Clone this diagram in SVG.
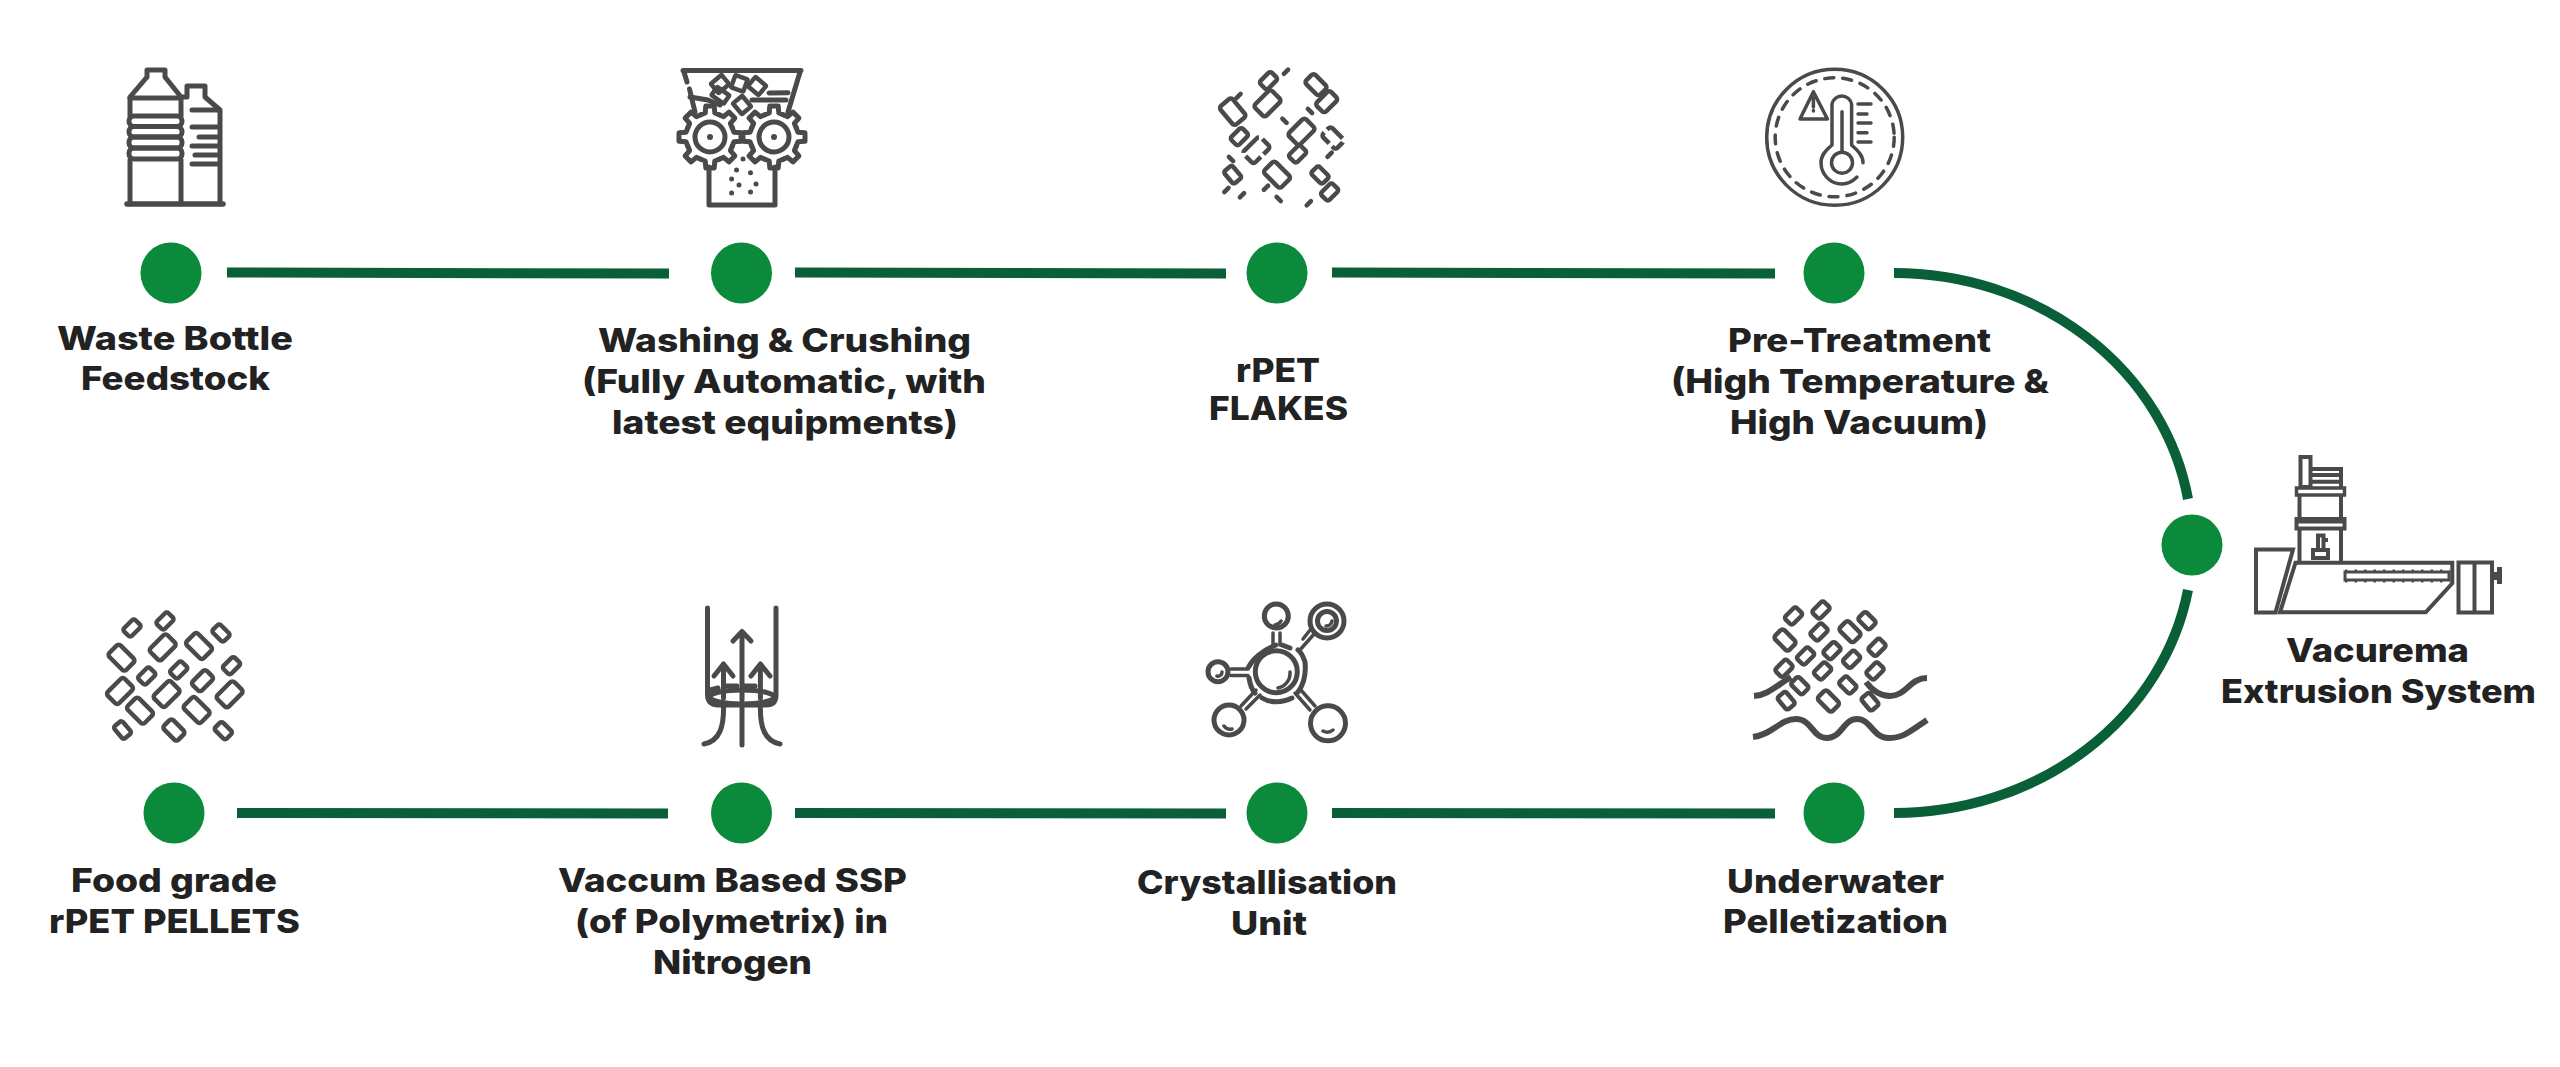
<svg xmlns="http://www.w3.org/2000/svg" xmlns:xlink="http://www.w3.org/1999/xlink" width="2560" height="1067" viewBox="0 0 2560 1067">
<style>
.dot{fill:#0b8a3c}
.conn{fill:none;stroke:#085f38;stroke-width:10}
.t{font-family:"Inter","Liberation Sans",sans-serif;font-weight:800;font-size:33px;fill:#222}
.i{fill:none;stroke:#4a4a4a;stroke-width:5;stroke-linecap:round;stroke-linejoin:round}
.th{stroke-width:3.5}
.m{stroke-linecap:butt;stroke-linejoin:miter;stroke-width:4}
.s{fill:#4a4a4a}
.fl{fill:none;stroke:#4a4a4a;stroke-width:4.500;stroke-linejoin:round}
.d{stroke:#4a4a4a;stroke-width:4.500;stroke-linecap:round}
</style>
<defs>
<rect id="fl" class="fl" x="-12" y="-8" width="24" height="16" rx="3"/>
<rect id="fm" class="fl" x="-10" y="-6.500" width="20" height="13" rx="3"/>
<rect id="fs" class="fl" x="-8" y="-5.500" width="16" height="11" rx="2.500"/>
<line id="da" class="d" x1="-3" y1="0" x2="3" y2="0"/>
<path id="gs" d="M-9.200-22.200L-4.800-24L-4.200-31H4.200L4.800-24L9.200-22.200"/>
<g id="gear" class="i">
<circle r="24" fill="#fff" stroke="none"/>
<use href="#gs"/><use href="#gs" transform="rotate(45)"/><use href="#gs" transform="rotate(90)"/><use href="#gs" transform="rotate(135)"/><use href="#gs" transform="rotate(180)"/><use href="#gs" transform="rotate(225)"/><use href="#gs" transform="rotate(270)"/><use href="#gs" transform="rotate(315)"/>
<circle r="15"/>
<circle r="3" class="s" stroke="none"/>
</g>
</defs>
<rect width="2560" height="1067" fill="#fff"/>

<g id="connectors">
<path class="conn" d="M227 272.500L669 273.500"/>
<path class="conn" d="M795 272.500L1226 273.500"/>
<path class="conn" d="M1332 272.500L1775 273.500"/>
<path class="conn" d="M1894 273A298 270 0 0 1 2188 499"/>
<path class="conn" d="M2188 590A298 270 0 0 1 1894 813"/>
<path class="conn" d="M1775 813.500L1332 813"/>
<path class="conn" d="M1226 813.500L795 813"/>
<path class="conn" d="M668 813.500L237 813"/>
</g>

<g id="node-waste-bottle">
<circle class="dot" cx="171" cy="273" r="30.500"/>
<g class="i">
<path d="M147 77V70H165V77L181 97V116M147 77L130 97V116M130 160V204M181 160V204"/>
<path d="M130 98H181"/>
<rect x="129" y="116" width="53" height="10.500" rx="5"/>
<rect x="129" y="126.500" width="53" height="10.500" rx="5"/>
<rect x="129" y="137" width="53" height="11" rx="5"/>
<rect x="129" y="148" width="53" height="11" rx="5"/>
<path d="M182 97L187 97V86H205V97L220 110V204"/>
<path d="M192 110H219M192 127H219M199 137H219M192 146H219M195 155H219M192 164H219"/>
<path d="M127 204H223" style="stroke-width:5.500"/>
</g>
<text class="t" x="57" y="350" textLength="236" lengthAdjust="spacingAndGlyphs">Waste Bottle</text>
<text class="t" x="81" y="390" textLength="189" lengthAdjust="spacingAndGlyphs">Feedstock</text>
</g>

<g id="node-washing">
<circle class="dot" cx="741.500" cy="273" r="30.500"/>
<g class="i">
<path d="M683 70.500H801M684 72L687 82M689.500 89L695 112M800 72L788 112"/>
<path d="M690 97L708 100M769 93L788 92.700M752 100L786 100M708 100L720 105"/>
<use href="#gear" x="710" y="137"/>
<use href="#gear" x="774" y="137"/>
<path d="M709 167V205H775V167"/>
<g style="stroke-width:4.500">
<rect x="713" y="78" width="14" height="12" rx="1" transform="rotate(-40 720 84)"/>
<rect x="733" y="77" width="13" height="13" rx="1" transform="rotate(20 740 83)"/>
<rect x="750" y="80" width="14" height="12" rx="1" transform="rotate(40 757 86)"/>
<rect x="713" y="90" width="15" height="10" rx="1" transform="rotate(35 720 95)"/>
<rect x="735" y="99" width="14" height="12" rx="1" transform="rotate(50 742 105)"/>
</g>
<g class="s" stroke="none"><circle cx="743" cy="159" r="2.500"/><circle cx="736.500" cy="170" r="2.500"/><circle cx="750.500" cy="172.700" r="2.500"/><circle cx="731.600" cy="179" r="2.500"/><circle cx="739" cy="185" r="2.500"/><circle cx="756" cy="184" r="2.500"/><circle cx="731.600" cy="193" r="2.500"/><circle cx="750.500" cy="192" r="2.500"/></g>
</g>
<text class="t" x="598" y="352" textLength="373" lengthAdjust="spacingAndGlyphs">Washing &amp; Crushing</text>
<text class="t" x="582" y="393" textLength="404" lengthAdjust="spacingAndGlyphs">(Fully Automatic, with</text>
<text class="t" x="612" y="434" textLength="346" lengthAdjust="spacingAndGlyphs">latest equipments)</text>
</g>

<g id="node-flakes">
<circle class="dot" cx="1277" cy="273" r="30.500"/>
<use href="#fs" transform="translate(1268.500 80.700) rotate(-45)"/>
<use href="#fm" transform="translate(1316 84.700) rotate(45)"/>
<use href="#fl" transform="translate(1267.500 103.300) rotate(-45)"/>
<use href="#fm" transform="translate(1326.700 101.700) rotate(-45)"/>
<use href="#fl" transform="translate(1232.700 111.700) rotate(50)"/>
<use href="#fs" transform="translate(1239.400 136.700) rotate(-45)"/>
<use href="#fl" transform="translate(1301.500 131.700) rotate(-45)"/>
<use href="#fm" transform="translate(1333 138) rotate(45)" stroke-dasharray="14 4"/>
<use href="#fl" transform="translate(1256.400 150) rotate(-45)" stroke-dasharray="20 4"/>
<use href="#fs" transform="translate(1297.600 154) rotate(-45)"/>
<use href="#fs" transform="translate(1232.700 174.700) rotate(50)"/>
<use href="#fl" transform="translate(1277 174.700) rotate(45)"/>
<use href="#fs" transform="translate(1320 175) rotate(45)"/>
<use href="#fs" transform="translate(1329.600 192) rotate(-45)"/>
<use href="#da" transform="translate(1286 71.700) rotate(-45)"/>
<use href="#da" transform="translate(1238.500 96) rotate(-45)"/>
<use href="#da" transform="translate(1310 111) rotate(45)"/>
<use href="#da" transform="translate(1284.500 120.700) rotate(45)"/>
<use href="#da" transform="translate(1329.600 154.700) rotate(-45)"/>
<use href="#da" transform="translate(1231 159) rotate(45)"/>
<use href="#da" transform="translate(1226.400 190) rotate(-45)"/>
<use href="#da" transform="translate(1266 187.700) rotate(-45)"/>
<use href="#da" transform="translate(1242 195.300) rotate(-45)"/>
<use href="#da" transform="translate(1278.700 199) rotate(45)"/>
<use href="#da" transform="translate(1308.800 203.300) rotate(-45)"/>
<text class="t" x="1236" y="382" textLength="84" lengthAdjust="spacingAndGlyphs">rPET</text>
<text class="t" x="1209" y="420" textLength="139" lengthAdjust="spacingAndGlyphs">FLAKES</text>
</g>

<g id="node-pretreatment">
<circle class="dot" cx="1834" cy="273" r="30.500"/>
<g class="i th">
<circle cx="1834.700" cy="137.300" r="68"/>
<circle cx="1834.700" cy="137.300" r="59.500" stroke-dasharray="9 9"/>
<path d="M1832 145V104A10 10 0 0 1 1851.600 104V145C1857 150 1863 155 1863 162.700M1832 145C1826 150 1821 155 1821 162.700C1821 174 1830 184 1842 184C1848 184 1853 181 1857 177"/>
<path d="M1842 111.700V151.700"/>
<circle cx="1842" cy="162.700" r="10.500"/>
<path d="M1858 104H1871M1858 114H1867M1858 123H1871M1858 132.700H1867M1858 142H1871"/>
<path d="M1813.400 91.700L1800 119H1827.400ZM1813.400 98V107M1813.400 110.500V111"/>
</g>
<text class="t" x="1728" y="352" textLength="263" lengthAdjust="spacingAndGlyphs">Pre-Treatment</text>
<text class="t" x="1671" y="393" textLength="378" lengthAdjust="spacingAndGlyphs">(High Temperature &amp;</text>
<text class="t" x="1730" y="434" textLength="258" lengthAdjust="spacingAndGlyphs">High Vacuum)</text>
</g>

<g id="node-vacurema">
<circle class="dot" cx="2192" cy="545" r="30.500"/>
<g class="i m">
<rect x="2300.500" y="457" width="10" height="30"/>
<path d="M2311 469H2341V487M2311 475H2341M2311 481.700H2341"/>
<rect x="2296.500" y="488" width="48" height="7" style="stroke-width:3.500"/>
<path d="M2299.500 495V518M2341 495V518"/>
<rect x="2296.500" y="519" width="48" height="9.500"/>
<path d="M2296 522H2345" style="stroke-width:3"/>
<path d="M2299.500 529V562M2341 529V562"/>
<rect x="2313" y="550" width="15" height="8"/>
<path d="M2318 550V535.500H2323.500V550M2323.500 540H2328"/>
<path d="M2256 549.500H2293L2275.500 612.500H2256Z"/>
<path d="M2295.500 562.700H2452.300V583.300L2425.700 612.300H2280Z"/>
<path d="M2345 576H2450" style="stroke-width:13" stroke-dasharray="2.500 7"/>
<rect x="2345" y="572" width="104" height="8" fill="#fff" style="stroke-width:3"/>
<rect x="2458.500" y="562.500" width="33.500" height="50"/>
<path d="M2474.500 562.500V612.500"/>
<rect x="2492" y="572" width="5" height="8" class="s" stroke="none"/>
<rect x="2497" y="567" width="5" height="17" class="s" stroke="none"/>
</g>
<text class="t" x="2286" y="662" textLength="183" lengthAdjust="spacingAndGlyphs">Vacurema</text>
<text class="t" x="2221" y="703" textLength="315" lengthAdjust="spacingAndGlyphs">Extrusion System</text>
</g>

<g id="node-pelletization">
<circle class="dot" cx="1834" cy="813" r="30.500"/>
<use href="#fs" transform="translate(1793.500 616) rotate(-45)"/>
<use href="#fs" transform="translate(1821 610) rotate(-45)"/>
<use href="#fs" transform="translate(1867 620.700) rotate(45)"/>
<use href="#fs" transform="translate(1819 632) rotate(-45)"/>
<use href="#fm" transform="translate(1850 631.700) rotate(45)"/>
<use href="#fm" transform="translate(1785 640) rotate(45)"/>
<use href="#fs" transform="translate(1877 647.300) rotate(-45)"/>
<use href="#fs" transform="translate(1805.600 656) rotate(-45)"/>
<use href="#fs" transform="translate(1832 650.700) rotate(-45)"/>
<use href="#fs" transform="translate(1851.600 659.300) rotate(-45)"/>
<use href="#fs" transform="translate(1784 668.300) rotate(-45)"/>
<use href="#fs" transform="translate(1822.600 671) rotate(-45)"/>
<use href="#fs" transform="translate(1875 671) rotate(-45)"/>
<use href="#fs" transform="translate(1799.800 685.700) rotate(45)"/>
<use href="#fs" transform="translate(1847.800 685) rotate(45)"/>
<use href="#fs" transform="translate(1786.200 700.700) rotate(50)"/>
<use href="#fm" transform="translate(1828.400 701) rotate(45)"/>
<use href="#fs" transform="translate(1870 701.700) rotate(50)"/>
<g class="i" style="stroke-width:6;stroke-linecap:butt">
<path d="M1753 737C1772 735 1780 719 1796 719S1812 738 1827 738S1843 719 1857 719S1873 738 1888 738S1908 733 1927 720"/>
<path d="M1754 696C1768 695 1776 686 1791 677"/>
<path d="M1866 682C1872 690 1880 696 1890 696C1906 696 1910 678 1927 678"/>
</g>
<text class="t" x="1727" y="893" textLength="217" lengthAdjust="spacingAndGlyphs">Underwater</text>
<text class="t" x="1723" y="933" textLength="225" lengthAdjust="spacingAndGlyphs">Pelletization</text>
</g>

<g id="node-crystallisation">
<circle class="dot" cx="1277" cy="813" r="30.500"/>
<g class="i" style="stroke-width:5">
<path d="M1276 645C1262 650 1252 660 1248 668M1249 678C1250 684 1252 690 1255 693M1262 698C1270 703 1282 703 1292 698M1298 692C1304 684 1306 672 1305 662C1303 656 1301 652 1298 650M1290 648L1282 645"/>
<circle cx="1276.300" cy="671.700" r="21"/>
<circle cx="1276.300" cy="616" r="12"/>
<circle cx="1327" cy="621" r="17"/>
<circle cx="1327" cy="621" r="9.500"/>
<circle cx="1218" cy="671.700" r="10"/>
<circle cx="1229" cy="720" r="15"/>
<circle cx="1328" cy="723.300" r="17.500"/>
<g style="stroke-width:3.500">
<path d="M1273 633V645M1280 633V645"/>
<path d="M1231 669H1248M1231 675.500H1248"/>
<path d="M1241 706L1256 690M1246 709L1260 695"/>
<path d="M1310 710L1295 693M1315 706L1300 689"/>
<path d="M1315 633L1299 651M1310 630L1303 639"/>
<path d="M1281 621A8 8 0 0 1 1275 625M1332 621A6 6 0 0 1 1326 626M1222 672A4 4 0 0 1 1217 676M1224 726A8 8 0 0 0 1232 729M1323 731A9 9 0 0 0 1333 730M1290 672A15 15 0 0 1 1278 688"/>
</g>
</g>
<text class="t" x="1137" y="894" textLength="260" lengthAdjust="spacingAndGlyphs">Crystallisation</text>
<text class="t" x="1231" y="935" textLength="76" lengthAdjust="spacingAndGlyphs">Unit</text>
</g>

<g id="node-ssp">
<circle class="dot" cx="741.500" cy="813" r="30.500"/>
<g class="i" style="stroke-width:5">
<path d="M707.500 608V695C707.500 702 712 705 718 705H766C772 705 776 702 776 695V608"/>
<ellipse cx="742" cy="697" rx="32" ry="7"/>
<path d="M742 705V745M723.500 706C724 726 720 741 704 744M760.400 706C760 726 764 741 780 744"/>
<path d="M742 700V632M733 641L742 631.500L751 641"/>
<path d="M723.500 698V664M714 676L723.500 664L733 676"/>
<path d="M760.400 698V664M751 676L760.400 664L770 676"/>
<path d="M726 686H737M743.400 686H755M710 690L718 688"/>
</g>
<text class="t" x="558" y="892" textLength="349" lengthAdjust="spacingAndGlyphs">Vaccum Based SSP</text>
<text class="t" x="575" y="933" textLength="313" lengthAdjust="spacingAndGlyphs">(of Polymetrix) in</text>
<text class="t" x="653" y="974" textLength="159" lengthAdjust="spacingAndGlyphs">Nitrogen</text>
</g>

<g id="node-pellets">
<circle class="dot" cx="174" cy="813" r="30.500"/>
<use href="#fs" transform="translate(132 628) rotate(-45)"/>
<use href="#fs" transform="translate(165 621) rotate(-45)"/>
<use href="#fs" transform="translate(221 633) rotate(45)"/>
<use href="#fl" transform="translate(162.700 647.300) rotate(-45)"/>
<use href="#fl" transform="translate(199 646) rotate(45)"/>
<use href="#fl" transform="translate(121.500 657.700) rotate(45)"/>
<use href="#fs" transform="translate(231.500 665.700) rotate(-45)"/>
<use href="#fs" transform="translate(146.700 676) rotate(-45)"/>
<use href="#fs" transform="translate(178.700 670) rotate(-45)"/>
<use href="#fm" transform="translate(202.500 680.700) rotate(-45)"/>
<use href="#fl" transform="translate(120 691) rotate(-45)"/>
<use href="#fl" transform="translate(166.600 694) rotate(-45)"/>
<use href="#fl" transform="translate(229.600 694.300) rotate(-45)"/>
<use href="#fl" transform="translate(140 710.700) rotate(45)"/>
<use href="#fl" transform="translate(196.600 710) rotate(45)"/>
<use href="#fs" transform="translate(122.500 730) rotate(50)"/>
<use href="#fm" transform="translate(173.900 730) rotate(45)"/>
<use href="#fs" transform="translate(223.300 730.700) rotate(45)"/>
<text class="t" x="71" y="892" textLength="206" lengthAdjust="spacingAndGlyphs">Food grade</text>
<text class="t" x="49" y="933" textLength="251" lengthAdjust="spacingAndGlyphs">rPET PELLETS</text>
</g>
</svg>
